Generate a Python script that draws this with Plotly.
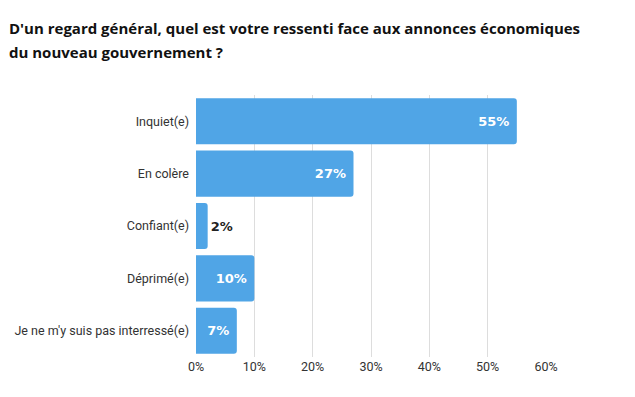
import plotly.graph_objects as go

categories = ["Inquiet(e)", "En colère", "Confiant(e)", "Déprimé(e)", "Je ne m'y suis pas interressé(e)"]
values = [55, 27, 2, 10, 7]
tick_vals = [0, 10, 20, 30, 40, 50, 60]
tick_text = ["0%", "10%", "20%", "30%", "40%", "50%", "60%"]
title_lines = ["D'un regard général, quel est votre ressenti face aux annonces économiques",
               "du nouveau gouvernement ?"]

positions = ["inside" if v > 5 else "outside" for v in values]
colors = ["white" if v > 5 else "#222222" for v in values]
labels = [f"{v}%\u00a0" if v > 5 else f"{v}%" for v in values]

L, R, T, B = 188, 97, 87, 48
W, H = 635, 397
pw, ph = W - L - R, H - T - B

fig = go.Figure(go.Bar(
    y=categories, x=values, orientation="h",
    marker=dict(color="#50a5e6", cornerradius=3, line=dict(width=0)),
    text=labels,
    textposition=positions,
    insidetextanchor="end",
    textfont=dict(family="DejaVu Sans", size=13, color=colors, weight="bold"),
    cliponaxis=False,
))

ann = []
for i, line in enumerate(title_lines):
    ann.append(dict(
        text=line, xref="paper", yref="paper",
        x=-(L - 0) / pw, y=1 + (T - (20 + 24 * i)) / ph, xanchor="left", yanchor="middle",
        showarrow=False, align="left", borderpad=0,
        font=dict(family="Open Sans", size=15, color="#111111", weight="bold"),
    ))

fig.update_layout(
    width=W, height=H,
    margin=dict(l=L, r=R, t=T, b=B, autoexpand=False),
    paper_bgcolor="white", plot_bgcolor="white",
    bargap=0.12,
    showlegend=False,
    annotations=ann,
)
fig.update_xaxes(range=[0, 60], tickvals=tick_vals, ticktext=tick_text,
                 showgrid=True, gridcolor="#dddddd", gridwidth=1,
                 zeroline=False, showline=False, automargin=False,
                 tickfont=dict(family="Roboto", size=12.5, color="#333333"))
fig.update_yaxes(autorange="reversed", showgrid=False, ticks="", ticklen=0,
                 ticklabelstandoff=6, automargin=False,
                 tickfont=dict(family="Roboto", size=12.5, color="#333333"))

fig.write_html("out.html")
